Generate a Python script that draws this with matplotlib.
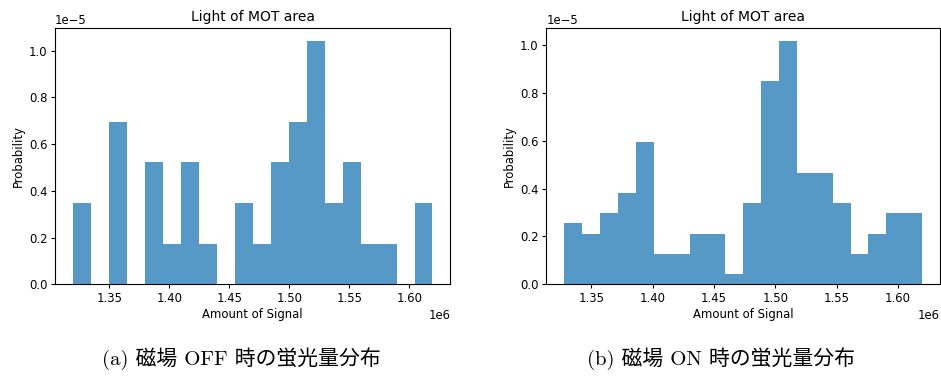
"""Fluorescence histograms of the MOT region, magnetic field off / on."""

import matplotlib.pyplot as plt
import numpy as np

# bin edges (signal, counts) and histogram density (x 1e-5) for each run
edges_off = np.linspace(1.3198e6, 1.6192e6, 21)
density_off = [0.348, 0.0, 0.696, 0.0, 0.522, 0.174, 0.522, 0.174, 0.0, 0.348,
               0.174, 0.522, 0.696, 1.044, 0.348, 0.522, 0.174, 0.174, 0.0, 0.348]

edges_on = np.linspace(1.3280e6, 1.6198e6, 21)
density_on = [0.255, 0.2125, 0.2975, 0.3825, 0.595, 0.1275, 0.1275, 0.2125,
              0.2125, 0.0425, 0.34, 0.85, 1.02, 0.4675, 0.4675, 0.34, 0.1275,
              0.2125, 0.2975, 0.2975]

captions = ["(a) 磁場 OFF 時の蛍光量分布", "(b) 磁場 ON 時の蛍光量分布"]

TICK_SIZE = 8.4
TITLE_SIZE = 10

fig = plt.figure(figsize=(9.41, 3.78), dpi=100)
ax_off = fig.add_axes([0.0584, 0.2479, 0.4203, 0.6772])
ax_on = fig.add_axes([0.5806, 0.2479, 0.4184, 0.6772])

for ax, edges, dens in [(ax_off, edges_off, density_off), (ax_on, edges_on, density_on)]:
    ax.hist(edges[:-1], bins=edges, weights=np.array(dens) * 1e-5, alpha=0.75)
    ax.set_title("Light of MOT area", fontsize=TITLE_SIZE, pad=5)
    ax.set_xlabel("Amount of Signal", fontsize=TICK_SIZE, labelpad=2)
    ax.set_ylabel("Probability", fontsize=TICK_SIZE, labelpad=3)
    ax.set_xticks([1.35e6, 1.40e6, 1.45e6, 1.50e6, 1.55e6, 1.60e6])
    ax.tick_params(labelsize=TICK_SIZE, length=3, pad=2.5)
    ax.xaxis.get_offset_text().set_fontsize(TICK_SIZE)
    ax.yaxis.get_offset_text().set_fontsize(TICK_SIZE)

for x, text in zip([0.2566, 0.766], captions):
    fig.text(x, 0.05, text, ha="center", va="center", fontsize=15,
             family=["cmr10", "Noto Sans CJK JP"])

plt.savefig("out.png", dpi=100)
